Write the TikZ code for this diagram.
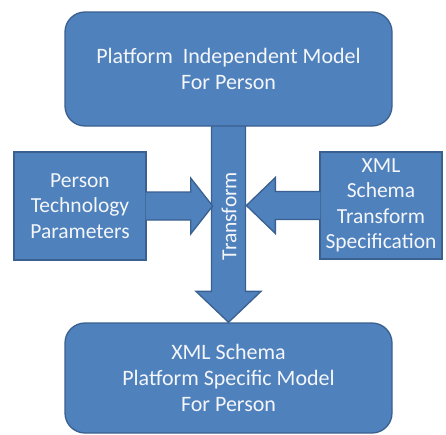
\documentclass[tikz,border=0pt]{standalone}
\usepackage{fontspec}
\setmainfont{Carlito}
\usetikzlibrary{calc,backgrounds}
\definecolor{boxfill}{HTML}{4F81BD}
\definecolor{boxline}{HTML}{3A6090}
\definecolor{txt}{HTML}{F4F6FA}
\begin{document}
\begin{tikzpicture}[x=1pt,y=1pt,
  shapestyle/.style={fill=boxfill,draw=boxline,line width=1.3pt,line join=miter},
  bigbox/.style={shapestyle,rounded corners=20pt,minimum width=327pt,inner sep=0pt,
    align=center,text=txt,font=\fontsize{22}{26}\selectfont},
  sidebox/.style={shapestyle,inner sep=0pt,align=center,text=txt,
    font=\fontsize{21.5}{25.5}\selectfont},
  blockarrow/.style={shapestyle}]
\useasboundingbox (0,0) rectangle (446,-434);
\node[bigbox,minimum height=114pt] (top) at (228.5,-69) {Platform\ \ Independent Model\\For Person};
\node[bigbox,minimum height=110pt] (bottom) at (228.5,-378) {XML Schema\\Platform Specific Model\\For Person};
\node[sidebox,minimum width=132pt,minimum height=108pt] (left) at (80,-206) {Person\\Technology\\Parameters};
\node[sidebox,minimum width=122pt,minimum height=107pt] (right) at (381,-205.5) {XML\\Schema\\Transform\\Specification};
\begin{scope}[on background layer]
\draw[blockarrow] ($(top.south)+(-17,2)$) -- ($(bottom.north)+(-17,31)$) -- ($(bottom.north)+(-32.5,31)$)
  -- (bottom.north) -- ($(bottom.north)+(32.5,31)$) -- ($(bottom.north)+(17,31)$) -- ($(top.south)+(17,2)$);
\end{scope}
\draw[blockarrow] ($(left.east)+(-1,14)$) -- ($(left.east)+(44,14)$) -- ($(left.east)+(44,28)$)
  -- ($(left.east)+(66,0)$) -- ($(left.east)+(44,-28)$) -- ($(left.east)+(44,-14)$) -- ($(left.east)+(-1,-14)$);
\draw[blockarrow] ($(right.west)+(1,14)$) -- ($(right.west)+(-44,14)$) -- ($(right.west)+(-44,28)$)
  -- ($(right.west)+(-73,0)$) -- ($(right.west)+(-44,-28)$) -- ($(right.west)+(-44,-14)$) -- ($(right.west)+(1,-14)$);
\node[rotate=90,text=txt,font=\fontsize{21.5}{25.5}\selectfont,inner sep=0pt] (transform) at (229,-216) {Transform};
\end{tikzpicture}
\end{document}
